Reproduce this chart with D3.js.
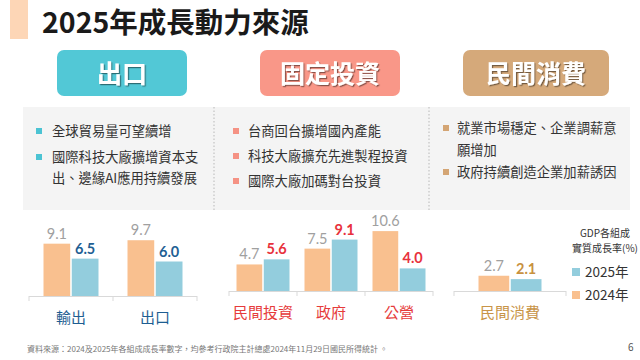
<!DOCTYPE html>
<html><head><meta charset="utf-8">
<script src="https://cdn.jsdelivr.net/npm/d3@7"></script>
<style>
html,body{margin:0;padding:0;background:#fff;}
svg{display:block;font-family:"Noto Sans CJK TC","Noto Sans",sans-serif;}
</style></head>
<body>
<svg id="c" width="640" height="360"></svg>
<script>
// ---- data ----
const title = "2025年成長動力來源";
const sections = ["出口", "固定投資", "民間消費"];
const bullets1 = [["全球貿易量可望續增"], ["國際科技大廠擴增資本支", "出、邊緣AI應用持續發展"]];
const bullets2 = [["台商回台擴增國內產能"], ["科技大廠擴充先進製程投資"], ["國際大廠加碼對台投資"]];
const bullets3 = [["就業市場穩定、企業調薪意", "願增加"], ["政府持續創造企業加薪誘因"]];
const years = ["2024", "2025"];
const exportCats = ["輸出", "出口"];
const export2024 = [9.1, 9.7];
const export2025 = [6.5, 6.0];
const invCats = ["民間投資", "政府", "公營"];
const inv2024 = [4.7, 7.5, 10.6];
const inv2025 = [5.6, 9.1, 4.0];
const consCats = ["民間消費"];
const cons2024 = [2.7];
const cons2025 = [2.1];
const legendTitle = ["GDP各組成", "實質成長率(%)"];
const legendItems = ["2025年", "2024年"];
const footnote = "資料來源：2024及2025年各組成成長率數字，均參考行政院主計總處2024年11月29日國民所得統計 。";
const pageNo = "6";

// ---- drawing ----
const svg = d3.select("#c");
const C24 = "#F9C08F", C25 = "#93CDDD";
const numFont = "Lato, 'Open Sans', sans-serif";

const defs = svg.append("defs");
const f = defs.append("filter").attr("id","sh").attr("x","-20%").attr("y","-20%").attr("width","140%").attr("height","140%");
f.append("feDropShadow").attr("dx",1.2).attr("dy",1.2).attr("stdDeviation",0.6).attr("flood-color","#000").attr("flood-opacity",0.45);

// title
svg.append("rect").attr("x",10).attr("y",0).attr("width",18).attr("height",39).attr("fill","#FDD6B6");
svg.append("text").attr("x",42).attr("y",33).attr("font-size",28.5).attr("font-weight",700).attr("fill","#1a1a1a").text(title);

// badges
const badgeX = [57, 260, 463], badgeW = [130, 140, 146], badgeC = ["#52C8D6", "#F99788", "#D5A97A"];
sections.forEach((s,i)=>{
  svg.append("rect").attr("x",badgeX[i]).attr("y",50).attr("width",badgeW[i]).attr("height",46).attr("rx",7).attr("fill",badgeC[i]);
  svg.append("text").attr("x",badgeX[i]+badgeW[i]/2).attr("y",83).attr("text-anchor","middle")
    .attr("font-size",25).attr("font-weight",700).attr("fill","#fff").attr("filter","url(#sh)").text(s);
});

// panel
svg.append("rect").attr("x",23).attr("y",107).attr("width",607).attr("height",103).attr("fill","#F4F4F4");
[214, 429].forEach(x=>svg.append("line").attr("x1",x).attr("x2",x).attr("y1",107).attr("y2",210)
  .attr("stroke","#AAA").attr("stroke-width",0.8).attr("stroke-dasharray","1.5,2"));

function drawBullets(items, sqX, txX, ys, color){
  let k = 0;
  items.forEach((lines, i)=>{
    svg.append("rect").attr("x",sqX).attr("y",ys[k]-3).attr("width",6).attr("height",6).attr("fill",color);
    lines.forEach(l=>{
      svg.append("text").attr("x",txX).attr("y",ys[k]+5).attr("font-size",13.3).attr("fill","#333").text(l);
      k++;
    });
  });
}
drawBullets(bullets1, 36, 52, [131, 157, 178], "#4BC3D3");
drawBullets(bullets2, 233, 248, [131, 156, 181], "#F59284");
drawBullets(bullets3, 443, 457, [128, 150, 172], "#D4A574");

// bar charts
function chart(cats, v24, v25, x0, x1, base, ppu, barW, gap, valColor, catColor){
  const x = d3.scaleBand().domain(cats).range([x0, x1]);
  const y = d3.scaleLinear().domain([0, 12]).range([base, base - 12*ppu]);
  const gw = barW*2 + gap;
  const xi = d3.scaleBand().domain(years).range([0, gw]).paddingInner(gap/(barW+gap/2)/2);
  const g = svg.append("g");
  g.append("line").attr("x1",x0).attr("x2",x1).attr("y1",base+0.5).attr("y2",base+0.5).attr("stroke","#D9D9D9");
  const bounds = cats.map(c=>x(c)).concat([x1]);
  g.selectAll(".tk").data(bounds).join("line").attr("x1",d=>d).attr("x2",d=>d).attr("y1",base).attr("y2",base+5).attr("stroke","#D9D9D9");
  cats.forEach((c,i)=>{
    const cx = x(c) + x.bandwidth()/2;
    const gx = cx - gw/2;
    const vals = [v24[i], v25[i]];
    vals.forEach((v,j)=>{
      const bx = gx + xi(years[j]);
      g.append("rect").attr("x",bx).attr("y",y(v)).attr("width",xi.bandwidth()).attr("height",base - y(v)).attr("fill", j===0?C24:C25);
      g.append("text").attr("x",bx + xi.bandwidth()/2).attr("y",y(v)-5).attr("text-anchor","middle")
        .attr("font-family",numFont).attr("font-size",14.5)
        .attr("font-weight", j===0?400:700).attr("fill", j===0?"#A0A0A0":valColor)
        .text(v.toFixed(1));
    });
    g.append("text").attr("x",cx).attr("y",base+27).attr("text-anchor","middle").attr("font-size",15)
      .attr("fill",catColor).text(c);
  });
}
chart(exportCats, export2024, export2025, 29, 197, 296, 5.75, 26, 3, "#1F5F94", "#1E5E92");
chart(invCats, inv2024, inv2025, 229, 433, 291, 5.65, 25, 3, "#E8323C", "#E63B3B");
chart(consCats, cons2024, cons2025, 454, 566, 291, 5.65, 30, 3, "#C8913F", "#C89448");

// legend
legendTitle.forEach((t,i)=>svg.append("text").attr("x",605).attr("y",237+i*14.5).attr("text-anchor","middle")
  .attr("font-size",10).attr("fill","#333").text(t));
legendItems.forEach((t,i)=>{
  const yy = 272 + i*23;
  svg.append("rect").attr("x",572).attr("y",yy-4).attr("width",8).attr("height",8).attr("fill", i===0?C25:C24);
  svg.append("text").attr("x",585).attr("y",yy+5).attr("font-size",13.5).attr("fill","#333").text(t);
});

// footer
svg.append("text").attr("x",27).attr("y",352).attr("font-size",8).attr("fill","#777").text(footnote);
svg.append("text").attr("x",628).attr("y",351).attr("font-size",10).attr("fill","#555").text(pageNo);
</script>
</body></html>
